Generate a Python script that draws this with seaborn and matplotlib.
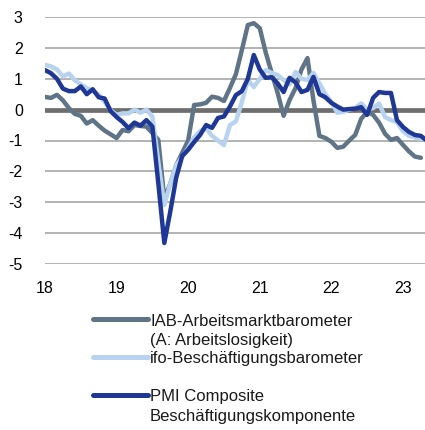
import matplotlib
matplotlib.use("Agg")
import matplotlib.pyplot as plt
from matplotlib.lines import Line2D
import seaborn as sns
import pandas as pd
import numpy as np

# Monthly index (0 = first month shown)
iab = [0.41, 0.38, 0.48, 0.30, 0.05, -0.14, -0.20, -0.45, -0.34, -0.52,
       -0.68, -0.80, -0.92, -0.66, -0.70, -0.50, -0.53, -0.55, -0.76, -0.98,
       -2.90, -2.40, -1.80, -1.40, -1.00, 0.15, 0.17, 0.22, 0.42, 0.38,
       0.28, 0.70, 1.15, 1.93, 2.74, 2.80, 2.64, 1.85, 1.19, 0.54,
       -0.20, 0.31, 0.70, 1.30, 1.67, 0.30, -0.85, -0.92, -1.04, -1.24,
       -1.20, -1.00, -0.82, -0.30, -0.07, -0.17, -0.42, -0.78, -0.98, -0.92,
       -1.14, -1.35, -1.52, -1.56]
ifo = [1.45, 1.40, 1.30, 1.08, 1.17, 0.95, 0.82, 0.70, 0.60, 0.48,
       0.25, -0.02, -0.17, -0.12, -0.12, 0.00, -0.10, 0.00, -0.23, -1.70,
       -3.09, -2.40, -1.80, -1.53, -1.25, -0.90, -0.70, -0.60, -0.85, -1.00,
       -1.15, -0.50, -0.38, 0.25, 0.96, 0.73, 1.00, 1.28, 1.19, 1.12,
       0.96, 0.82, 1.22, 1.00, 0.96, 1.19, 0.85, 0.50, 0.25, -0.10,
       -0.07, 0.00, 0.05, 0.20, 0.00, 0.05, 0.20, -0.24, -0.34, -0.40,
       -0.70, -0.85, -0.90, -0.95]
pmi = [1.28, 1.18, 1.00, 0.68, 0.60, 0.60, 0.75, 0.50, 0.66, 0.40,
       0.36, -0.05, -0.24, -0.40, -0.60, -0.42, -0.52, -0.34, -0.55, -2.40,
       -4.32, -3.30, -2.20, -1.50, -1.30, -1.05, -0.82, -0.50, -0.59, -0.27,
       -0.22, 0.10, 0.47, 0.60, 1.00, 1.77, 1.30, 1.03, 1.05, 0.85,
       0.57, 1.03, 0.88, 0.57, 0.64, 1.06, 0.50, 0.40, 0.22, 0.10,
       0.00, 0.02, 0.03, 0.08, -0.17, 0.38, 0.57, 0.54, 0.54, -0.34,
       -0.56, -0.72, -0.82, -0.85, -1.00]

series_names = ["IAB-Arbeitsmarktbarometer\n(A: Arbeitslosigkeit)",
                "ifo-Beschäftigungsbarometer",
                "PMI Composite\nBeschäftigungskomponente"]
colors = ["#5f7587", "#b7d3ef", "#1f3896"]
tick_labels = ["18", "19", "20", "21", "22", "23"]
tick_pos = [0, 12, 24, 36, 48, 60]
yticks = [-5, -4, -3, -2, -1, 0, 1, 2, 3]

rows = []
for name, vals in zip(series_names, [iab, ifo, pmi]):
    for i, v in enumerate(vals):
        rows.append({"m": i, "v": v, "s": name})
df = pd.DataFrame(rows)

sns.set_style("white")
plt.rcParams["font.family"] = ["Liberation Sans", "DejaVu Sans"]

fig = plt.figure(figsize=(4.25, 4.30), dpi=100)
ax = fig.add_axes([45/425, 1-264/430, 1-45/425, (264-17)/430])

for y in yticks:
    if y == 0:
        continue
    ax.axhline(y, color="#a6a6a6", lw=1.2, zorder=1)
ax.axhline(0, color="#6e6e6e", lw=3.4, zorder=2)

sns.lineplot(data=df, x="m", y="v", hue="s", palette=colors,
             hue_order=series_names, lw=3.2, legend=False, ax=ax, zorder=3)
for ln in ax.lines[-3:]:
    ln.set_solid_joinstyle("round")
    ln.set_solid_capstyle("round")

ax.set_xlim(0, 63.7)
ax.set_ylim(-5, 3)
ax.set_xticks(tick_pos)
ax.set_xticklabels(tick_labels)
ax.set_yticks(yticks)
ax.set_yticklabels([str(t) for t in yticks])
ax.tick_params(axis="both", length=0, labelsize=11.5, colors="black")
ax.tick_params(axis="y", pad=16)
ax.tick_params(axis="x", pad=12)
ax.set_xlabel("")
ax.set_ylabel("")
for sp in ax.spines.values():
    sp.set_visible(False)

# legend drawn manually
W, H = 425, 430
handles_y = [319, 357, 395]
text_lines = [(321, "IAB-Arbeitsmarktbarometer"), (341, "(A: Arbeitslosigkeit)"),
              (359, "ifo-Beschäftigungsbarometer"), (396, "PMI Composite"),
              (417, "Beschäftigungskomponente")]
for hy, c in zip(handles_y, colors):
    fig.add_artist(Line2D([93/W, 148/W], [1-hy/H, 1-hy/H], color=c, lw=3.6,
                          solid_capstyle="round"))
for ty, t in text_lines:
    fig.text(150/W, 1-ty/H, t, fontsize=12, va="center", ha="left", color="#1a1a1a")

fig.savefig("out.png", dpi=100)
